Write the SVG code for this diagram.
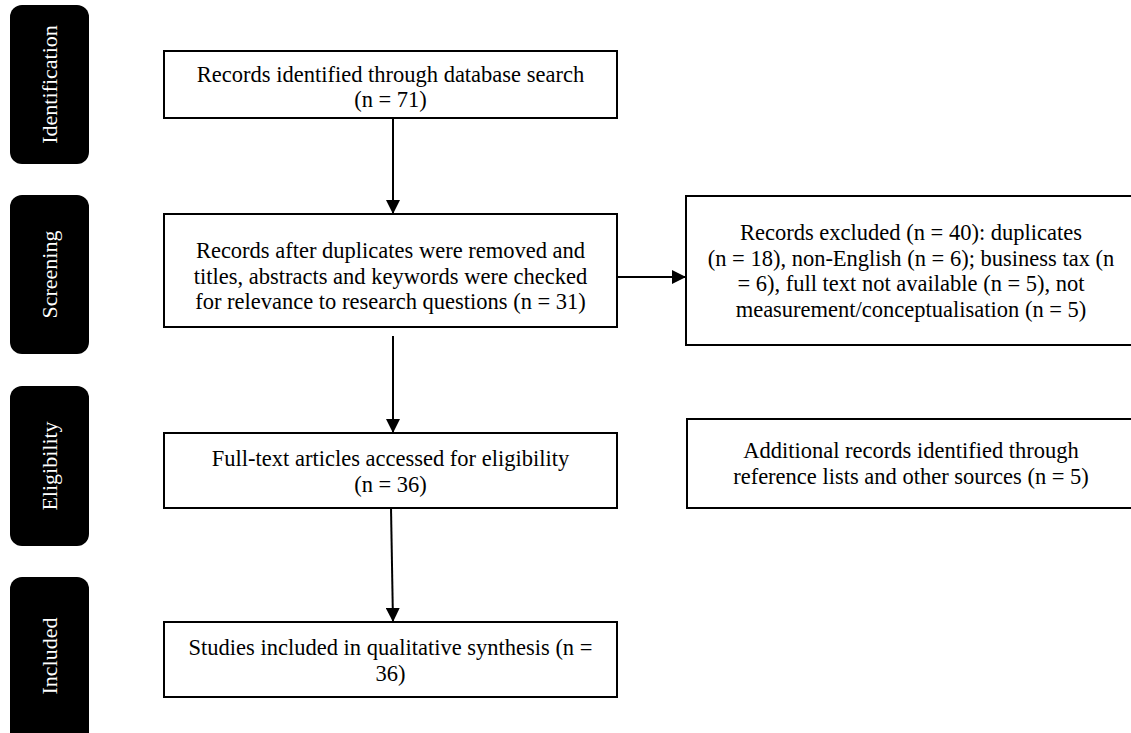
<svg xmlns="http://www.w3.org/2000/svg" width="1131" height="733" viewBox="0 0 1131 733">
<style>
.side{fill:#000;}
.sidetxt{fill:#fff;font-family:"Liberation Serif","Times New Roman",serif;font-size:22px;text-anchor:middle;}
.box{fill:#fff;stroke:#000;stroke-width:2;}
.txt{fill:#000;font-family:"Liberation Serif","Times New Roman",serif;font-size:22.5px;text-anchor:middle;}
.conn{stroke:#000;stroke-width:2;fill:none;marker-end:url(#arr);}
</style>
<defs>
<marker id="arr" markerUnits="userSpaceOnUse" markerWidth="14" markerHeight="14" refX="14" refY="7" orient="auto">
<path d="M0,0 L14,7 L0,14 Z" fill="#000"/>
</marker>
</defs>
<rect width="1131" height="733" fill="#fff"/>
<g id="stage-identification">
<rect class="side" x="10" y="5" width="79" height="159" rx="12"/>
<text class="sidetxt" transform="translate(57,84.5) rotate(-90)">Identification</text>
</g>
<g id="stage-screening">
<rect class="side" x="10" y="195" width="79" height="159" rx="12"/>
<text class="sidetxt" transform="translate(57,274.5) rotate(-90)">Screening</text>
</g>
<g id="stage-eligibility">
<rect class="side" x="10" y="386" width="79" height="160" rx="12"/>
<text class="sidetxt" transform="translate(57,466) rotate(-90)">Eligibility</text>
</g>
<g id="stage-included">
<rect class="side" x="10" y="577" width="79" height="170" rx="12"/>
<text class="sidetxt" transform="translate(57,656) rotate(-90)">Included</text>
</g>
<g id="identified">
<rect class="box" x="164" y="51" width="453" height="67"/>
<text class="txt" x="390.5" y="82">Records identified through database search</text>
<text class="txt" x="390.5" y="107">(n = 71)</text>
</g>
<g id="screened">
<rect class="box" x="164" y="214" width="453" height="113"/>
<text class="txt" x="390.5" y="258">Records after duplicates were removed and</text>
<text class="txt" x="390.5" y="284">titles, abstracts and keywords were checked</text>
<text class="txt" x="390.5" y="309">for relevance to research questions (n = 31)</text>
</g>
<g id="excluded">
<rect class="box" x="686" y="196" width="460" height="149"/>
<text class="txt" x="911" y="240">Records excluded (n = 40): duplicates</text>
<text class="txt" x="911" y="266">(n = 18), non-English (n = 6); business tax (n</text>
<text class="txt" x="911" y="291">= 6), full text not available (n = 5), not</text>
<text class="txt" x="911" y="317">measurement/conceptualisation (n = 5)</text>
</g>
<g id="fulltext">
<rect class="box" x="164" y="433" width="453" height="75"/>
<text class="txt" x="390.5" y="466">Full-text articles accessed for eligibility</text>
<text class="txt" x="390.5" y="492">(n = 36)</text>
</g>
<g id="additional">
<rect class="box" x="687" y="419" width="460" height="89"/>
<text class="txt" x="911" y="458">Additional records identified through</text>
<text class="txt" x="911" y="484">reference lists and other sources (n = 5)</text>
</g>
<g id="included">
<rect class="box" x="164" y="622" width="453" height="75"/>
<text class="txt" x="390.5" y="655">Studies included in qualitative synthesis (n =</text>
<text class="txt" x="390.5" y="681">36)</text>
</g>
<g id="connectors">
<line class="conn" x1="393" y1="118" x2="393" y2="214"/>
<line class="conn" x1="617" y1="277" x2="686" y2="277"/>
<line class="conn" x1="393" y1="336" x2="393" y2="433"/>
<line class="conn" x1="391" y1="508" x2="393" y2="622"/>
</g>
</svg>
